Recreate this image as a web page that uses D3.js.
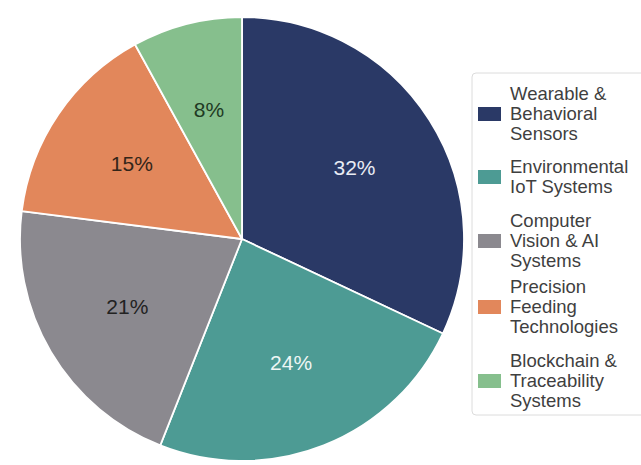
<!DOCTYPE html>
<html>
<head>
<meta charset="utf-8">
<script src="https://cdn.jsdelivr.net/npm/d3@7"></script>
<style>
  html, body { margin: 0; padding: 0; background: #ffffff; }
  svg { display: block; }
</style>
</head>
<body>
<svg id="chart" width="641" height="465"></svg>
<script>
const categories = [
  "Wearable & Behavioral Sensors",
  "Environmental IoT Systems",
  "Computer Vision & AI Systems",
  "Precision Feeding Technologies",
  "Blockchain & Traceability Systems"
];
const values = [32, 24, 21, 15, 8];
const legendLines = [
  ["Wearable &", "Behavioral", "Sensors"],
  ["Environmental", "IoT Systems"],
  ["Computer", "Vision & AI", "Systems"],
  ["Precision", "Feeding", "Technologies"],
  ["Blockchain &", "Traceability", "Systems"]
];
const colors = ["#2a3966", "#4d9b94", "#8b898f", "#e2875b", "#86bf8d"];
const labelColors = ["#e8ecf4", "#eef6f4", "#222222", "#332519", "#1f3a24"];

const svg = d3.select("#chart");
const cx = 242, cy = 239, r = 222;

const data = categories.map((c, i) => ({ name: c, value: values[i], i }));
const pie = d3.pie().value(d => d.value).sort(null);
const arc = d3.arc().innerRadius(0).outerRadius(r);
const labelArc = d3.arc().innerRadius(r * 0.6).outerRadius(r * 0.6);
const color = d3.scaleOrdinal().domain(categories).range(colors);

const g = svg.append("g").attr("transform", `translate(${cx},${cy})`);
const arcs = pie(data);

g.selectAll("path.slice")
  .data(arcs)
  .join("path")
  .attr("class", "slice")
  .attr("d", arc)
  .attr("fill", d => color(d.data.name))
  .attr("stroke", "#ffffff")
  .attr("stroke-width", 1.8)
  .attr("stroke-linejoin", "round");

g.selectAll("text.pct")
  .data(arcs)
  .join("text")
  .attr("class", "pct")
  .attr("transform", d => `translate(${labelArc.centroid(d)})`)
  .attr("text-anchor", "middle")
  .attr("dy", "0.35em")
  .attr("font-family", "'Liberation Sans', Arial, sans-serif")
  .attr("font-size", 21)
  .attr("fill", d => labelColors[d.data.i])
  .text(d => d.data.value + "%");

// Legend
const lx = 472, ly = 73, lw = 180, lh = 342;
const legend = svg.append("g");
legend.append("rect")
  .attr("x", lx).attr("y", ly)
  .attr("width", lw).attr("height", lh)
  .attr("rx", 4)
  .attr("fill", "#ffffff")
  .attr("stroke", "#dcdcdc")
  .attr("stroke-width", 1);

const itemCenters = [114, 177, 241, 307, 381];
const lineH = 20;
const items = legend.selectAll("g.item")
  .data(data)
  .join("g")
  .attr("class", "item")
  .attr("transform", (d, i) => `translate(${lx}, ${itemCenters[i]})`);

items.append("rect")
  .attr("x", 6).attr("y", -7)
  .attr("width", 23).attr("height", 14)
  .attr("fill", d => color(d.name));

items.each(function(d, i) {
  const lines = legendLines[i];
  const t = d3.select(this).append("text")
    .attr("x", 38)
    .attr("font-family", "'Liberation Sans', Arial, sans-serif")
    .attr("font-size", 18.5)
    .attr("fill", "#3f3f3f");
  const n = lines.length;
  lines.forEach((ln, k) => {
    t.append("tspan")
      .attr("x", 38)
      .attr("y", (k - (n - 1) / 2) * lineH)
      .attr("dy", "0.35em")
      .text(ln);
  });
});
</script>
</body>
</html>
